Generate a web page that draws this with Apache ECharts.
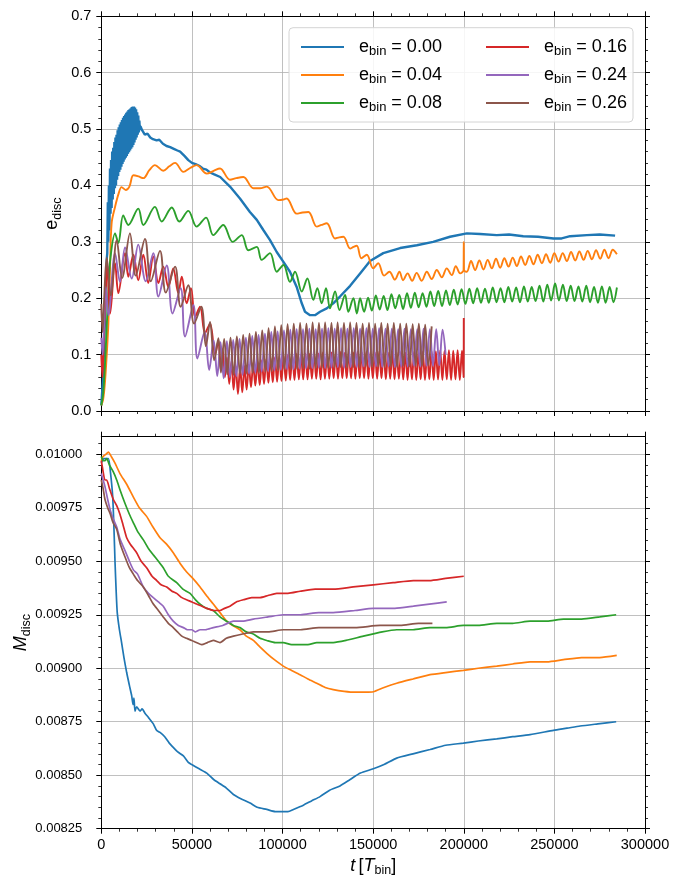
<!DOCTYPE html>
<html><head><meta charset="utf-8">
<script src="https://cdn.jsdelivr.net/npm/echarts@6/dist/echarts.min.js"></script>
<style>html,body{margin:0;padding:0;background:#fff}#c{width:683px;height:876px}</style>
</head><body><div id="c"></div>
<script>
// ---------- data (t in units of 1000 T_bin) ----------
const binLabels = ['0.00','0.04','0.08','0.16','0.24','0.26'];
const colors = ['#1f77b4','#ff7f0e','#2ca02c','#d62728','#9467bd','#8c564b'];
const xTickLabels = ['0','50000','100000','150000','200000','250000','300000'];
const eTicks = [0,0.1,0.2,0.3,0.4,0.5,0.6,0.7];
const mTicks = [0.00825,0.0085,0.00875,0.009,0.00925,0.0095,0.00975,0.01];

const eDisc000 = [[0,0.01],[1,0.06],[2,0.16],[3,0.27],[3.3,0.28],[3.6,0.37],[3.9,0.30],[4.2,0.40],[4.5,0.32],[4.8,0.43],[5.1,0.35],[5.4,0.445],[5.7,0.36],[6.0,0.46],[6.3,0.375],[6.6,0.467],[6.9,0.385],[7.2,0.477],[7.5,0.395],[7.8,0.485],[8.1,0.40],[8.4,0.49],[8.7,0.41],[9.0,0.498],[9.3,0.417],[9.6,0.503],[9.9,0.424],[10.2,0.508],[10.5,0.428],[10.8,0.512],[11.1,0.433],[11.4,0.516],[11.7,0.438],[12.0,0.52],[12.3,0.442],[12.6,0.523],[12.9,0.446],[13.2,0.526],[13.5,0.449],[13.8,0.529],[14.1,0.452],[14.4,0.531],[14.7,0.456],[15.0,0.534],[15.3,0.459],[15.6,0.535],[15.9,0.462],[16.2,0.537],[16.5,0.465],[16.8,0.539],[17.1,0.468],[17.4,0.54],[17.7,0.472],[18.0,0.54],[18.3,0.476],[18.6,0.538],[18.9,0.481],[19.2,0.535],[19.5,0.485],[19.8,0.53],[20.1,0.49],[20.4,0.524],[20.7,0.494],[21.0,0.515],[21.3,0.498],[21.6,0.505],[22.5,0.498],[24,0.49],[25.5,0.492],[27,0.485],[28.5,0.482],[30.5,0.48],[32,0.481],[34,0.474],[36,0.47],[38,0.468],[40,0.465],[42,0.462],[43.5,0.46],[46,0.452],[48,0.445],[50,0.44],[52,0.438],[54,0.435],[56,0.43],[58,0.428],[60,0.423],[62,0.42],[65.6,0.415],[71,0.398],[76.5,0.377],[82,0.353],[85.8,0.339],[89.4,0.321],[93.1,0.303],[96.8,0.282],[100.4,0.265],[104.1,0.247],[107.8,0.22],[110.6,0.191],[112.4,0.176],[115.2,0.17],[117.9,0.17],[120.7,0.176],[124.4,0.182],[128,0.191],[131.7,0.203],[137.3,0.222],[142.8,0.244],[148.3,0.266],[155.6,0.28],[164.9,0.289],[174.1,0.294],[183.1,0.30],[192.4,0.309],[201.7,0.315],[209,0.314],[218.2,0.312],[225,0.313],[232.8,0.31],[241,0.309],[249.5,0.306],[254,0.306],[258.7,0.31],[267.9,0.312],[275,0.313],[283.5,0.311]];

const eDisc004 = [[0,0.01],[1,0.02],[2,0.05],[3,0.1],[3.9,0.155],[4.8,0.25],[5.7,0.333],[7.6,0.362],[9.5,0.385],[11.2,0.397],[13.5,0.392],[15.5,0.398],[17.7,0.418],[20.5,0.416],[23.2,0.413],[26.5,0.427],[29.6,0.436],[34.2,0.426],[37.5,0.434],[40.7,0.44],[45.3,0.424],[49,0.431],[52.6,0.436],[58.2,0.421],[62,0.426],[65.5,0.43],[71,0.41],[74.5,0.413],[78.4,0.415],[83.9,0.395],[87.5,0.395],[91.3,0.398],[97.7,0.374],[100.5,0.375],[102.3,0.377],[107.8,0.35],[111,0.352],[114.3,0.353],[118.9,0.327],[121.5,0.33],[124.4,0.333],[129,0.306],[131.3,0.308],[133.6,0.309],[137.3,0.288],[139.2,0.291],[141,0.293],[143.5,0.271],[146.5,0.277],[150,0.253],[152.8,0.262],[156,0.24],[159,0.247],[162,0.233],[164.5,0.247],[166.5,0.232],[169,0.244],[171.5,0.231],[174,0.245],[176.8,0.231],[179.6,0.247],[182.3,0.234],[185.1,0.25],[187.9,0.237],[190.6,0.253],[193.4,0.241],[195.6,0.257],[198,0.244],[199.9,0.25],[200,0.3],[200.1,0.25],[201.7,0.247],[204.0,0.266],[206.3,0.25],[208.6,0.267],[210.9,0.251],[213.2,0.268],[215.5,0.253],[217.8,0.27],[220.1,0.254],[222.4,0.271],[224.7,0.256],[227.0,0.272],[229.3,0.257],[231.6,0.274],[233.9,0.259],[236.2,0.275],[238.5,0.26],[240.8,0.277],[243.1,0.262],[245.4,0.278],[247.7,0.263],[250.0,0.28],[252.3,0.265],[254.6,0.28],[256.9,0.266],[259.2,0.282],[261.5,0.267],[263.8,0.283],[266.1,0.268],[268.4,0.284],[270.7,0.269],[273.0,0.285],[275.3,0.27],[277.6,0.286],[279.9,0.271],[282.2,0.286],[284.5,0.278]];

const eDisc008 = [[0,0.01],[1,0.03],[2,0.08],[3,0.15],[4,0.22],[5,0.27],[7.6,0.315],[9.4,0.298],[12.1,0.347],[14.9,0.33],[20.4,0.359],[23.2,0.33],[29.6,0.362],[33.3,0.336],[38.9,0.361],[43,0.336],[48,0.355],[52.6,0.327],[57.8,0.343],[61.8,0.312],[67.3,0.33],[72.5,0.3],[77.5,0.312],[81.1,0.285],[85.8,0.291],[88.5,0.268],[93.1,0.28],[96.8,0.247],[100.5,0.259],[104.1,0.229],[106.9,0.247],[110.6,0.212],[113.7,0.235],[117,0.197],[119.2,0.218],[121.6,0.191],[124,0.218],[126.2,0.182],[129,0.212],[131.4,0.179],[134.5,0.206],[136.3,0.176],[139.1,0.2],[141,0.173],[142.8,0.2],[145.0,0.176],[147.2,0.201],[149.3,0.178],[151.5,0.205],[153.6,0.18],[155.8,0.204],[157.9,0.179],[160.1,0.207],[162.2,0.182],[164.4,0.206],[166.5,0.181],[168.7,0.209],[170.8,0.183],[173.0,0.21],[175.1,0.184],[177.3,0.209],[179.4,0.185],[181.6,0.212],[183.7,0.186],[185.9,0.213],[188.0,0.186],[190.2,0.214],[192.3,0.188],[194.5,0.215],[196.6,0.189],[198.8,0.216],[200.9,0.19],[203.1,0.217],[205.2,0.191],[207.4,0.218],[209.5,0.192],[211.7,0.217],[213.8,0.192],[216.0,0.219],[218.1,0.193],[220.3,0.218],[222.4,0.193],[224.6,0.22],[226.7,0.194],[228.9,0.219],[231.0,0.193],[233.2,0.221],[235.3,0.194],[237.5,0.22],[239.6,0.195],[241.8,0.222],[243.9,0.194],[246.1,0.224],[248.2,0.196],[250.4,0.226],[252.5,0.196],[254.7,0.224],[256.8,0.195],[259.0,0.222],[261.1,0.195],[263.3,0.221],[265.4,0.194],[267.6,0.222],[269.7,0.193],[271.9,0.22],[274.0,0.192],[276.2,0.221],[278.3,0.192],[280.5,0.22],[282.6,0.193],[284.5,0.219]];

const eDisc016 = [[0,0.1],[0.6,0.06],[1.3,0.12],[2.3,0.2],[3.3,0.26],[4.9,0.173],[7.6,0.262],[9.4,0.209],[13.1,0.28],[14.9,0.238],[17.7,0.277],[20.4,0.232],[23.2,0.277],[25.9,0.227],[28.7,0.274],[31.5,0.227],[34.2,0.256],[37,0.22],[39.7,0.253],[42.5,0.209],[44.4,0.238],[47.1,0.191],[49.5,0.218],[51.7,0.167],[54.5,0.185],[57.2,0.138],[60,0.155],[62.8,0.1],[64.6,0.125],[65.8,0.075],[67.0,0.11],[68.2,0.06],[69.4,0.095],[70.6,0.048],[71.8,0.088],[73.0,0.038],[74.2,0.08],[75.4,0.03],[76.6,0.078],[77.8,0.033],[79.0,0.08],[80.2,0.038],[81.4,0.082],[82.6,0.042],[83.8,0.085],[85.0,0.045],[86.2,0.088],[87.4,0.046],[88.6,0.09],[89.8,0.048],[91.0,0.092],[92.2,0.05],[93.4,0.094],[94.6,0.051],[95.8,0.095],[97.0,0.052],[98.2,0.097],[99.4,0.053],[100.6,0.098],[101.8,0.054],[103.0,0.1],[104.2,0.055],[105.4,0.099],[106.6,0.055],[107.8,0.101],[109.0,0.056],[110.2,0.1],[111.4,0.056],[112.6,0.102],[113.8,0.056],[115.0,0.101],[116.2,0.057],[117.4,0.103],[118.6,0.057],[119.8,0.102],[121.0,0.056],[122.2,0.104],[123.4,0.057],[124.6,0.102],[125.8,0.057],[127.0,0.104],[128.2,0.058],[129.4,0.103],[130.6,0.057],[131.8,0.105],[133.0,0.058],[134.2,0.103],[135.4,0.058],[136.6,0.105],[137.8,0.058],[139.0,0.104],[140.2,0.057],[141.4,0.106],[142.6,0.058],[143.8,0.104],[145.0,0.058],[146.2,0.105],[147.4,0.057],[148.6,0.106],[149.8,0.058],[151.0,0.104],[152.2,0.057],[153.4,0.106],[154.6,0.058],[155.8,0.105],[157.0,0.056],[158.2,0.104],[159.4,0.057],[160.6,0.106],[161.8,0.056],[163.0,0.104],[164.2,0.057],[165.4,0.105],[166.6,0.056],[167.8,0.104],[169.0,0.055],[170.2,0.106],[171.4,0.056],[172.6,0.105],[173.8,0.055],[175.0,0.104],[176.2,0.056],[177.4,0.106],[178.6,0.055],[179.8,0.105],[181.0,0.056],[182.2,0.107],[183.4,0.055],[184.6,0.106],[185.8,0.056],[187.0,0.108],[188.2,0.055],[189.4,0.107],[190.6,0.056],[191.8,0.108],[193.0,0.055],[194.2,0.107],[195.4,0.056],[196.6,0.108],[197.8,0.055],[199.0,0.107],[199.9,0.06],[200.0,0.165]];

const eDisc024 = [[0,0.13],[0.7,0.1],[1.5,0.15],[2.5,0.22],[3.9,0.17],[7.6,0.28],[10.3,0.229],[13.1,0.29],[16.8,0.235],[20.4,0.295],[24.5,0.23],[28.7,0.28],[31.5,0.203],[36.1,0.258],[39.3,0.173],[43.8,0.218],[46.2,0.132],[50.8,0.188],[53,0.093],[57,0.14],[59.5,0.073],[62,0.125],[64.0,0.062],[65.8,0.122],[67.5,0.058],[69.3,0.124],[71.0,0.06],[72.8,0.126],[74.5,0.062],[76.3,0.128],[78.0,0.064],[79.8,0.13],[81.5,0.066],[83.3,0.133],[85.0,0.068],[86.8,0.135],[88.5,0.07],[90.3,0.137],[92.0,0.071],[93.8,0.14],[95.5,0.072],[97.3,0.141],[99.0,0.073],[100.8,0.143],[102.5,0.074],[104.3,0.144],[106.0,0.074],[107.8,0.145],[109.5,0.075],[111.3,0.145],[113.0,0.076],[114.8,0.146],[116.5,0.076],[118.3,0.145],[120.0,0.077],[121.8,0.146],[123.5,0.076],[125.3,0.147],[127.0,0.077],[128.8,0.146],[130.5,0.078],[132.3,0.147],[134.0,0.077],[135.8,0.146],[137.5,0.078],[139.3,0.147],[141.0,0.078],[142.8,0.146],[144.5,0.079],[146.3,0.147],[148.0,0.078],[149.8,0.146],[151.5,0.079],[153.3,0.147],[155.0,0.078],[156.8,0.146],[158.5,0.079],[160.3,0.146],[162.0,0.078],[163.8,0.145],[165.5,0.079],[167.3,0.146],[169.0,0.079],[170.8,0.145],[172.5,0.08],[174.3,0.145],[176.0,0.079],[177.8,0.146],[179.5,0.08],[181.3,0.145],[183.0,0.08],[184.8,0.145],[186.5,0.081],[188.3,0.144],[190.0,0.1]];

const eDisc026 = [[0,0.19],[0.7,0.14],[1.6,0.2],[3,0.272],[5.2,0.205],[8.5,0.303],[11.5,0.236],[15.8,0.315],[19,0.24],[24.1,0.305],[27.3,0.23],[32.4,0.284],[35.6,0.21],[40.7,0.256],[43.8,0.185],[48,0.223],[51.2,0.155],[55.2,0.185],[57.7,0.115],[60,0.158],[62.3,0.09],[64.6,0.129],[66.0,0.068],[67.8,0.128],[69.5,0.065],[71.3,0.13],[73.0,0.064],[74.8,0.132],[76.5,0.066],[78.3,0.135],[80.0,0.066],[81.8,0.137],[83.5,0.068],[85.3,0.14],[87.0,0.068],[88.8,0.143],[90.5,0.07],[92.3,0.147],[94.0,0.071],[95.8,0.15],[97.5,0.072],[99.3,0.152],[101.0,0.074],[102.8,0.154],[104.5,0.074],[106.2,0.155],[108.0,0.075],[109.7,0.156],[111.4,0.076],[113.2,0.155],[114.9,0.075],[116.6,0.157],[118.3,0.076],[120.1,0.156],[121.8,0.077],[123.5,0.157],[125.2,0.076],[127.0,0.156],[128.7,0.077],[130.4,0.157],[132.1,0.078],[133.9,0.156],[135.6,0.077],[137.3,0.157],[139.0,0.078],[140.8,0.156],[142.5,0.078],[144.2,0.155],[145.9,0.079],[147.7,0.156],[149.4,0.078],[151.1,0.155],[152.8,0.079],[154.5,0.156],[156.3,0.078],[158.0,0.155],[159.7,0.079],[161.4,0.156],[163.2,0.078],[164.9,0.155],[166.6,0.08],[168.3,0.155],[170.1,0.079],[171.8,0.154],[173.5,0.08],[175.2,0.155],[177.0,0.08],[178.7,0.153],[180.4,0.081],[182.3,0.15]];

const mDisc000 = [[0,0.00996],[1.5,0.00998],[3.9,0.00998],[5,0.00992],[6.3,0.0098],[7,0.00965],[7.6,0.00949],[8.2,0.00936],[8.8,0.00926],[10,0.00918],[11.2,0.00912],[12.5,0.00905],[14,0.00898],[15.5,0.00892],[16.8,0.00887],[17.5,0.00883],[18,0.00886],[18.6,0.0088],[19.5,0.00882],[21.4,0.0088],[22.5,0.00881],[24.1,0.00879],[26,0.00877],[28.7,0.00874],[30.5,0.00871],[32.4,0.0087],[35,0.00868],[37.5,0.00865],[39.7,0.00863],[42,0.00861],[45.3,0.00859],[48,0.00856],[49.9,0.00855],[54,0.00853],[58.2,0.00851],[62,0.00848],[65.5,0.00846],[69,0.00844],[72.9,0.00841],[77,0.00839],[82.1,0.00837],[86,0.00835],[91.3,0.00834],[96,0.00833],[100.1,0.00833],[103,0.00833],[106,0.00834],[111.5,0.00836],[116,0.00838],[120.7,0.0084],[126,0.00843],[131.7,0.00845],[137.3,0.00848],[143,0.00851],[150.1,0.00853],[156,0.00855],[163,0.00858],[172,0.0086],[181.4,0.00862],[190,0.00864],[199.8,0.00865],[208,0.00866],[218.2,0.00867],[227,0.00868],[236.6,0.00869],[249.5,0.00871],[257,0.00872],[264.2,0.00873],[274,0.00874],[284.1,0.00875]];

const mDisc004 = [[0,0.00997],[1,0.00999],[2.5,0.01],[3.9,0.01001],[5.5,0.00999],[7.5,0.00996],[10.3,0.00991],[14,0.00986],[17.7,0.0098],[21,0.00975],[25,0.00971],[28.5,0.00966],[32.4,0.00961],[36,0.00958],[39.7,0.00954],[43.5,0.00949],[47.1,0.00945],[50.5,0.00942],[54.5,0.00938],[58,0.00934],[61.8,0.0093],[65.5,0.00926],[69.2,0.00922],[72.5,0.0092],[76.5,0.00918],[80,0.00915],[83.9,0.00913],[87.5,0.0091],[91.3,0.00907],[95.5,0.00904],[100.4,0.00901],[105,0.00899],[109.7,0.00897],[114,0.00895],[118.9,0.00893],[123.5,0.00891],[128,0.0089],[134,0.008892],[140,0.008888],[146,0.008888],[150.1,0.00889],[156,0.00891],[163,0.00893],[172,0.00895],[181.4,0.00897],[190,0.00898],[199.8,0.00899],[208,0.009],[218.2,0.00901],[227,0.00902],[236.6,0.00903],[246,0.00903],[255,0.00904],[265,0.00905],[275,0.00905],[284.4,0.00906]];

const mDisc008 = [[0,0.00999],[1,0.00997],[2,0.00997],[3,0.00998],[4.5,0.00995],[6.5,0.00992],[8.5,0.00988],[10.5,0.00983],[13.1,0.00977],[15.5,0.00972],[17.7,0.00968],[20,0.00964],[23.2,0.0096],[26,0.00956],[28.7,0.00953],[31.5,0.0095],[34.2,0.00947],[37,0.00943],[41.6,0.0094],[45,0.00937],[49,0.00935],[52,0.00932],[54.5,0.0093],[58,0.00928],[61.8,0.00927],[65.5,0.00924],[69.2,0.00922],[72.9,0.0092],[76.5,0.00919],[80,0.00917],[83.9,0.00916],[87.6,0.00914],[91.3,0.00913],[96,0.00912],[100.4,0.00912],[105,0.00911],[109.7,0.00911],[114,0.00911],[118.9,0.00912],[124,0.00912],[128,0.00912],[135,0.00913],[144.6,0.00915],[155,0.00917],[163,0.00918],[172,0.00918],[181.4,0.00919],[190,0.00919],[199.8,0.0092],[208,0.0092],[218.2,0.00921],[227,0.00921],[236.6,0.00922],[246,0.00922],[255,0.00923],[265,0.00923],[275,0.00924],[284.1,0.00925]];

const mDisc016 = [[0,0.00997],[0.8,0.00993],[2,0.00988],[3,0.00988],[4.5,0.00984],[6.6,0.00979],[8.5,0.00976],[10.3,0.00972],[12,0.00967],[14,0.00961],[16,0.00958],[19.5,0.00954],[22,0.0095],[25,0.00947],[28,0.00943],[30.6,0.00941],[33,0.00939],[36.1,0.00938],[39,0.00936],[41.6,0.00935],[44.5,0.00933],[47.1,0.00932],[50,0.00931],[52.6,0.0093],[55.5,0.00929],[58.2,0.00928],[62,0.00927],[65.5,0.00927],[68,0.00928],[71,0.00929],[74.5,0.00931],[78.4,0.00932],[83,0.00933],[87.6,0.00933],[92,0.00934],[96.8,0.00935],[103,0.00935],[109.7,0.00936],[118,0.00937],[128,0.00937],[139,0.00938],[150.1,0.00939],[161,0.0094],[172.2,0.00941],[181,0.00941],[190,0.00942],[200,0.00943]];

const mDisc024 = [[0,0.00991],[1,0.00988],[2,0.00985],[3.5,0.00979],[4.9,0.00974],[6.5,0.0097],[8.5,0.00966],[10.5,0.0096],[13.1,0.00955],[15.5,0.0095],[17.7,0.00946],[20,0.00944],[23.2,0.00938],[26,0.00935],[28.7,0.00933],[31.5,0.00931],[34.2,0.00929],[37,0.00925],[39.7,0.00922],[42.5,0.0092],[45.3,0.00919],[47.5,0.00918],[49.9,0.00918],[52,0.00917],[54.5,0.00918],[57.5,0.00918],[61.8,0.00919],[67,0.0092],[72.9,0.00922],[78,0.00922],[83.9,0.00923],[92,0.00924],[100.4,0.00925],[110,0.00925],[120,0.00926],[128,0.00926],[140,0.00927],[150.1,0.00928],[162,0.00928],[172.2,0.00929],[181,0.0093],[190.6,0.00931]];

const mDisc026 = [[0,0.00988],[1,0.00984],[2,0.00979],[3.5,0.00975],[5,0.00972],[6.5,0.00968],[8.5,0.00965],[10.5,0.00958],[13.1,0.00952],[15.5,0.00947],[17.7,0.00944],[20,0.00941],[23.2,0.00938],[26,0.00934],[28.7,0.0093],[31.5,0.00927],[34.2,0.00924],[37,0.00921],[39.7,0.00919],[42,0.00917],[44.4,0.00915],[47,0.00914],[49.9,0.00913],[52.5,0.00912],[55.4,0.00911],[58.5,0.00912],[61.8,0.00913],[65.5,0.00912],[69,0.00914],[72.9,0.00915],[78,0.00916],[83.9,0.00917],[92,0.00917],[100.4,0.00918],[110,0.00918],[120,0.00919],[128,0.00919],[140,0.00919],[153.8,0.0092],[165,0.0092],[175,0.00921],[182.7,0.00921]];

const eSeries = [eDisc000, eDisc004, eDisc008, eDisc016, eDisc024, eDisc026];
const mSeries = [mDisc000, mDisc004, mDisc008, mDisc016, mDisc024, mDisc026];

// ---------- chart ----------
const FT = "'Liberation Sans',Arial,sans-serif";
const FL = "'Liberation Sans',Arial,sans-serif";
const toT = arr => arr.map(p => [p[0] * 1000, p[1]]);

const mMax = 0.0100824;
const mMinor = [];
for (let v = 0.00825; v <= 0.01006; v += 0.00005) mMinor.push(+v.toFixed(6));

const line = {color:'#000', width:1};
function xAxis(grid, pos, showLabel) {
  return {
    type:'value', gridIndex:grid, position:pos, min:0, max:300000, interval:50000,
    axisLine:{show:true, onZero:false, lineStyle:line},
    axisTick:{show:true, length:5, lineStyle:line},
    minorTick:{show:true, splitNumber:5, length:3, lineStyle:{color:'#000', width:0.8}},
    axisLabel:{show:showLabel, margin:9, color:'#000', fontFamily:FT, fontSize:14.5,
      formatter: v => xTickLabels[Math.round(v/50000)] ?? ''},
    splitLine:{show: pos==='bottom', lineStyle:{color:'#b0b0b0', width:0.8}},
    minorSplitLine:{show:false}
  };
}
const rich = {
  e:{fontFamily:FL, fontSize:18, lineHeight:24, color:'#000'},
  i:{fontFamily:FL, fontSize:18, lineHeight:24, color:'#000', fontStyle:'italic'},
  s:{fontFamily:FL, fontSize:12.5, lineHeight:12, color:'#000', padding:[10,0,0,0]}
};
const legendRich = {
  e:{fontFamily:FL, fontSize:18, lineHeight:24, color:'#000', padding:[0,0,0,10]},
  n:{fontFamily:FL, fontSize:18, lineHeight:24, color:'#000'},
  s:{fontFamily:FL, fontSize:13, lineHeight:13, color:'#000', padding:[9,0,0,0]}
};

const option = {
  animation:false,
  backgroundColor:'#fff',
  grid:[
    {left:101.3, right:38, top:16.3, height:394.7, containLabel:false, outerBoundsMode:'none'},
    {left:101.3, right:38, top:436.7, height:392, containLabel:false, outerBoundsMode:'none'}
  ],
  xAxis:[
    xAxis(0,'bottom',false), xAxis(0,'top',false),
    Object.assign(xAxis(1,'bottom',true), {name:'{i|t} {e|[}{i|T}{s|bin}{e|]}', nameLocation:'middle', nameGap:25, nameMoveOverlap:false, nameTextStyle:{rich}}),
    xAxis(1,'top',false)
  ],
  yAxis:[
    {type:'value', gridIndex:0, position:'left', min:0, max:0.7, interval:0.1,
     axisLine:{show:true, onZero:false, lineStyle:line},
     axisTick:{show:true, length:5, lineStyle:line},
     minorTick:{show:true, splitNumber:5, length:3, lineStyle:{color:'#000', width:0.8}},
     axisLabel:{margin:10, color:'#000', fontFamily:FT, fontSize:14.5, formatter:v => v.toFixed(1)},
     splitLine:{show:true, lineStyle:{color:'#b0b0b0', width:0.8}},
     name:'{e|e}{s|disc}', nameLocation:'middle', nameGap:37, nameMoveOverlap:false, nameTextStyle:{rich}},
    {type:'value', gridIndex:0, position:'right', min:0, max:0.7, interval:0.1,
     axisLine:{show:true, onZero:false, lineStyle:line},
     axisTick:{show:true, length:5, lineStyle:line},
     minorTick:{show:true, splitNumber:5, length:3, lineStyle:{color:'#000', width:0.8}},
     axisLabel:{show:false}, splitLine:{show:false}},
    {type:'value', gridIndex:1, position:'left', min:0.00825, max:mMax, interval:0.00025,
     axisLine:{show:true, onZero:false, lineStyle:line},
     axisTick:{show:true, length:5, lineStyle:line, customValues:mTicks},
     minorTick:{show:false},
     axisLabel:{margin:19, color:'#000', fontFamily:FT, fontSize:13, customValues:mTicks,
       formatter:v => v.toFixed(5)},
     splitLine:{show:true, lineStyle:{color:'#b0b0b0', width:0.8}},
     name:'{i|M}{s|disc}', nameLocation:'middle', nameGap:68, nameMoveOverlap:false, nameTextStyle:{rich}},
    {type:'value', gridIndex:1, position:'right', min:0.00825, max:mMax, interval:0.00025,
     axisLine:{show:true, onZero:false, lineStyle:line},
     axisTick:{show:true, length:5, lineStyle:line, customValues:mTicks},
     minorTick:{show:false}, axisLabel:{show:false}, splitLine:{show:false}},
    {type:'value', gridIndex:1, position:'left', min:0.00825, max:mMax, interval:0.00005,
     axisLine:{show:false, onZero:false},
     axisTick:{show:true, length:3, lineStyle:{color:'#000', width:0.8}, customValues:mMinor},
     axisLabel:{show:false}, splitLine:{show:false}},
    {type:'value', gridIndex:1, position:'right', min:0.00825, max:mMax, interval:0.00005,
     axisLine:{show:false, onZero:false},
     axisTick:{show:true, length:3, lineStyle:{color:'#000', width:0.8}, customValues:mMinor},
     axisLabel:{show:false}, splitLine:{show:false}}
  ],
  legend:[0,1].map(c => ({
    data: binLabels.slice(c*3, c*3+3),
    orient:'vertical', left: c ? 481 : 296, top:31, itemGap:6,
    itemWidth:43, itemHeight:2, icon:'rect', selectedMode:false, z:20,
    formatter: n => '{e|e}{s|bin}{n| = ' + n + '}',
    textStyle:{rich:legendRich}
  })),
  graphic:[{type:'rect', z:15, shape:{x:289, y:27.7, width:344, height:94.3, r:4},
    style:{fill:'rgba(255,255,255,0.85)', stroke:'#d4d4d4', lineWidth:1}}],
  series:[
    ...eSeries.map((d,i) => ({type:'line', name:binLabels[i], xAxisIndex:0, yAxisIndex:0,
      data:toT(d), symbol:'none', showSymbol:false, smooth: i===0 ? false : 0.35,
      lineStyle:{color:colors[i], width: i===0 ? 2.4 : 1.9}, itemStyle:{color:colors[i]}})),
    ...mSeries.map((d,i) => ({type:'line', name:binLabels[i], xAxisIndex:2, yAxisIndex:2,
      data:toT(d), symbol:'none', showSymbol:false, smooth:0.2,
      lineStyle:{color:colors[i], width:1.7}, itemStyle:{color:colors[i]}}))
  ]
};
const chart = echarts.init(document.getElementById('c'), null, {renderer:'canvas'});
chart.setOption(option);
</script></body></html>
